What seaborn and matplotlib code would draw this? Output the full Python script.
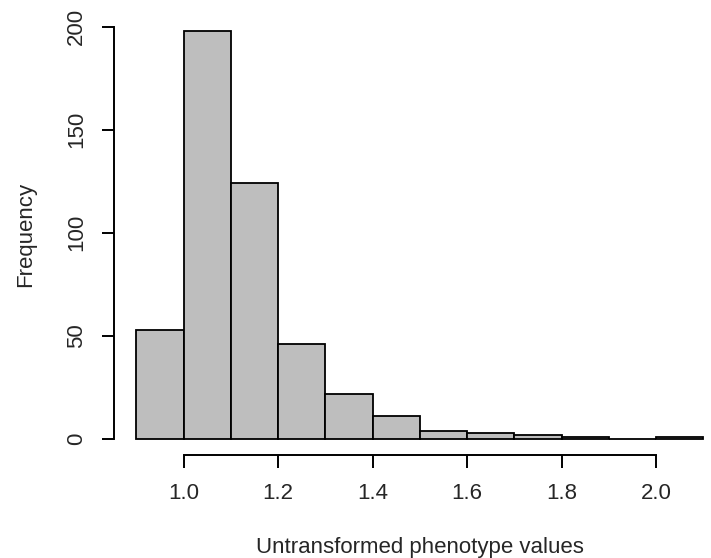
import numpy as np
import matplotlib
matplotlib.use("Agg")
import matplotlib.pyplot as plt
import seaborn as sns

# histogram (bin width 0.1)
bin_edges = [0.9, 1.0, 1.1, 1.2, 1.3, 1.4, 1.5, 1.6, 1.7, 1.8, 1.9, 2.0, 2.1]
counts = [53, 198, 124, 46, 22, 11, 4, 3, 2, 1, 0, 1]
x_ticks = [1.0, 1.2, 1.4, 1.6, 1.8, 2.0]
y_ticks = [0, 50, 100, 150, 200]

sns.set_style("white")
plt.rcParams["font.family"] = ["Liberation Sans", "DejaVu Sans"]

fig = plt.figure(figsize=(7.11, 5.58), dpi=100)
ax = fig.add_axes([0.160, 0.184, 0.861, 0.790])

mids = [(a + b) / 2 for a, b in zip(bin_edges[:-1], bin_edges[1:])]
sns.histplot(x=mids, weights=counts, bins=bin_edges, color="#BEBEBE",
             edgecolor="black", linewidth=1.3, alpha=1, ax=ax)

ax.set_xlim(0.852, 2.148)
ax.set_ylim(-7.92, 205.92)

for s in ["top", "right"]:
    ax.spines[s].set_visible(False)
ax.spines["left"].set_bounds(0, 200)
ax.spines["bottom"].set_bounds(1.0, 2.0)
for s in ["left", "bottom"]:
    ax.spines[s].set_linewidth(1.4)
    ax.spines[s].set_color("black")

ax.set_xticks(x_ticks)
ax.set_xticklabels([f"{v:.1f}" for v in x_ticks])
ax.set_yticks(y_ticks)
ax.set_yticklabels([str(v) for v in y_ticks], rotation=90, va="center")
ax.tick_params(axis="x", pad=11)
ax.tick_params(axis="y", pad=10)
ax.tick_params(axis="both", length=9, width=1.4, labelsize=16,
               color="black", direction="out", left=True, bottom=True)

ax.set_xlabel("Untransformed phenotype values", fontsize=16, labelpad=24)
ax.set_ylabel("Frequency", fontsize=16, labelpad=22)

fig.savefig("out.png", dpi=100)
